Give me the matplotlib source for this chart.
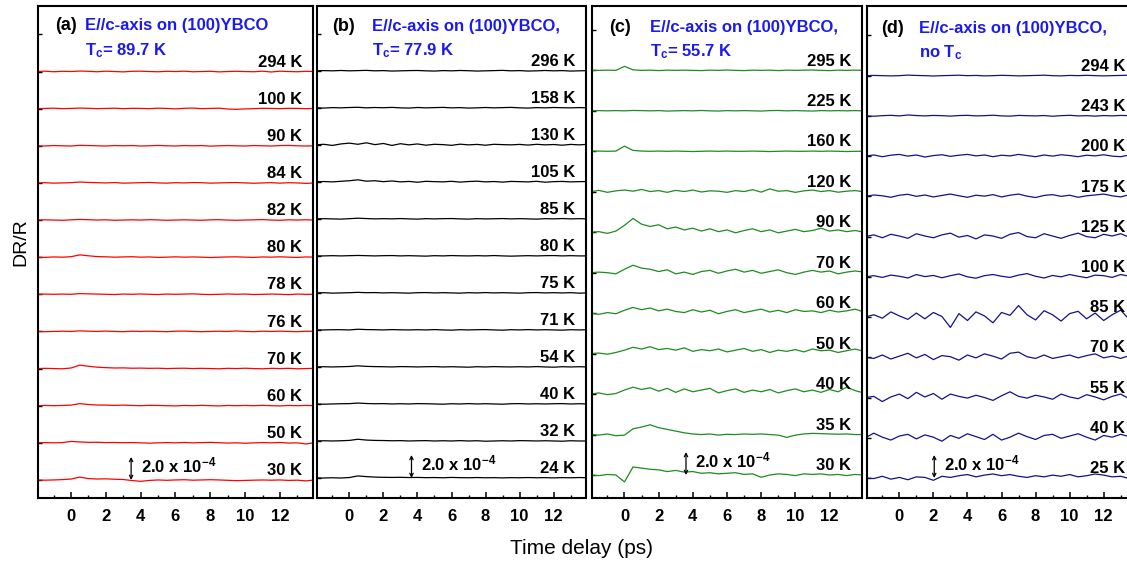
import numpy as np
import matplotlib
matplotlib.use("Agg")
import matplotlib.pyplot as plt

plt.rcParams['font.family'] = ['Liberation Sans', 'DejaVu Sans']
plt.rcParams['mathtext.fontset'] = 'custom'
plt.rcParams['mathtext.rm'] = 'Liberation Sans:bold'
plt.rcParams['mathtext.it'] = 'Liberation Sans:bold'
plt.rcParams['mathtext.bf'] = 'Liberation Sans:bold'
plt.rcParams['mathtext.default'] = 'rm'

# ---------------------------------------------------------------- data
# pump-probe delay grid (ps); traces are dR/R in units of 1e-4
time_ps = np.arange(-2.0, 14.01, 0.5)
xtick_values = [0, 2, 4, 6, 8, 10, 12]
xtick_labels = ['0', '2', '4', '6', '8', '10', '12']

temps_a = [294, 100, 90, 84, 82, 80, 78, 76, 70, 60, 50, 30]
traces_a = [
    [0, 0.03, -0.02, 0.02, 0, 0.04, 0.02, -0.02, 0.03, 0, -0.03,
     0.02, 0.03, 0, -0.02, 0.02, 0, 0.03, -0.02, 0, 0.02, -0.03,
     0, 0.02, 0, -0.02, 0.03, -0.04, 0.03, 0, -0.02, 0.02, 0],
    [0, 0.02, 0.04, 0, 0.02, 0.05, 0.03, 0, 0.02, 0.04, 0,
     0.03, 0.02, 0, 0.04, 0.02, -0.02, 0.03, 0.05, 0, 0.02, 0.04,
     -0.03, -0.06, -0.02, 0, 0.03, 0.02, 0, 0.03, 0.02, 0, 0.02],
    [0, -0.02, 0.02, 0, -0.02, 0.04, 0.02, 0, -0.02, 0.02, 0,
     0.02, -0.02, 0, 0.03, 0, -0.02, 0.02, 0, 0.02, -0.03, 0,
     0.02, 0, -0.02, 0.02, 0, -0.02, 0.02, 0.03, 0, -0.02, 0],
    [0, 0.02, -0.02, 0, 0.02, 0.08, 0.04, 0.02, 0, 0.03, -0.02,
     0, 0.02, 0.04, 0, -0.02, 0.02, 0, 0.03, 0.02, -0.02, 0,
     0.02, 0.03, 0, -0.03, 0, 0.02, -0.02, 0.02, 0, -0.04, 0],
    [0, 0.02, 0, -0.02, 0.02, 0.05, 0.03, 0, 0.02, -0.02, 0,
     0.02, 0, 0.03, 0.01, -0.02, 0, 0.02, 0, -0.02, 0.02, 0.03,
     0, -0.02, 0, 0.02, 0.04, 0, -0.02, 0.02, 0, 0.02, 0],
    [0, -0.02, 0.02, 0, 0.04, 0.2, 0.12, 0.05, 0.03, 0, 0.02,
     0.04, 0, 0.02, -0.02, 0, 0.03, 0, 0.02, 0, -0.03, 0,
     0.02, 0.03, 0, -0.02, 0.02, 0, 0.03, 0, -0.02, 0.02, 0],
    [0, 0.02, 0, 0.02, 0, 0.06, 0.04, 0.02, 0, -0.02, 0.02,
     0, 0.03, 0, -0.02, 0.02, 0, 0.02, 0.04, 0, -0.02, 0,
     0.03, 0, 0.02, -0.02, 0, 0.02, 0, -0.03, 0.02, 0, 0],
    [0, -0.02, 0, 0.02, 0, 0.05, 0.02, 0, 0.03, 0, -0.02,
     0.02, 0, 0.02, 0, -0.02, 0.02, 0.03, 0, -0.02, 0, 0.02,
     0, 0.04, 0, -0.02, 0.02, 0, 0.02, 0, -0.02, 0.02, 0],
    [0, 0.02, 0, -0.02, 0.05, 0.3, 0.2, 0.12, 0.08, 0.05, 0.06,
     0.03, 0.04, 0.02, 0.03, 0, 0.02, 0.03, 0, 0.02, 0, -0.02,
     0.02, 0, 0.03, 0, -0.02, 0.02, 0, 0.02, -0.02, 0, 0.02],
    [0, 0.02, 0, 0.02, 0.05, 0.18, 0.1, 0.06, 0.05, 0.03, 0.05,
     0.02, 0, 0.03, 0.02, 0, -0.02, 0.02, 0, 0.03, 0, -0.02,
     0.02, 0, 0.02, 0, 0.03, 0, -0.02, 0.02, 0, 0.02, 0],
    [0, 0.02, 0, 0.02, 0.12, 0.08, 0.04, 0.05, 0.02, 0.03, 0.01,
     0.02, 0, -0.03, 0, 0.02, 0, 0.03, 0, 0.02, 0.04, 0.01,
     -0.02, 0, -0.04, 0, 0.02, 0, 0.03, -0.02, 0, -0.1, 0.02],
    [0, -0.02, 0, 0.03, 0.08, 0.25, 0.12, 0.08, 0.1, 0.06, 0.04,
     -0.05, -0.12, -0.04, 0, -0.03, 0, 0.02, -0.02, 0, 0.02, 0,
     -0.03, -0.06, -0.04, -0.02, 0, -0.02, 0, -0.04, -0.02, -0.08, 0],
]

temps_b = [296, 158, 130, 105, 85, 80, 75, 71, 54, 40, 32, 24]
traces_b = [
    [0, 0.02, 0, 0.03, 0, 0.02, 0.04, 0, 0.02, -0.02, 0,
     0.02, 0.03, 0, -0.02, 0.02, 0, 0.03, 0.01, -0.02, 0, 0.02,
     0.04, 0, 0.02, -0.02, 0, 0.03, 0, 0.02, -0.02, 0, 0.02],
    [0, -0.02, 0.02, 0, 0.03, 0.05, 0, 0.03, 0.01, 0.04, 0,
     -0.02, 0.03, 0, 0.02, 0.04, 0, 0.02, -0.02, 0, 0.03, 0,
     0.02, 0.04, 0, -0.02, 0.02, 0, 0.03, 0.01, 0, 0.02, 0],
    [0, 0.05, -0.05, 0.08, 0.15, 0.05, 0.18, 0.02, 0.12, -0.05, 0.1,
     0, 0.08, -0.03, 0.05, 0.02, -0.04, 0.06, 0, 0.04, -0.03, 0.05,
     0.02, 0, 0.04, -0.02, 0.05, 0, 0.03, -0.03, 0.04, 0, 0.05],
    [0, 0.03, 0, 0.05, 0.1, 0.18, 0.06, 0.1, 0.02, 0.08, 0,
     0.04, -0.03, 0.05, 0.02, 0, 0.05, -0.02, 0.03, 0.06, 0, 0.03,
     -0.02, 0.04, 0.02, 0, 0.05, -0.03, 0.02, 0.04, 0, 0.02, 0.03],
    [0, 0.02, 0, -0.02, 0.02, 0.06, 0.03, 0, 0.02, 0, 0.03,
     0, -0.02, 0.02, 0, 0.02, 0.03, 0, -0.02, 0.02, 0, 0.01,
     0.03, 0, 0.02, 0, -0.02, 0.02, 0, 0.03, 0, 0.02, 0],
    [0, 0, 0.02, 0, 0.02, 0.04, 0.02, 0, 0.02, 0.03, 0,
     0.02, 0, -0.02, 0.02, 0, 0.03, 0.01, 0, 0.02, 0, 0.03,
     0, -0.02, 0, 0.02, 0, 0.02, 0.03, 0, 0.02, 0, 0],
    [0, 0.02, -0.02, 0, 0.02, 0.05, 0.02, 0.03, 0, 0.02, 0,
     -0.02, 0.02, 0.03, 0, 0.02, 0, -0.02, 0.02, 0, 0.03, 0,
     0.02, 0, -0.02, 0.02, 0.03, 0, 0.02, 0, 0.02, -0.02, 0],
    [0, 0, 0.02, 0.02, 0, 0.06, 0.03, 0.02, 0, 0.03, 0.01,
     0, 0.02, 0, 0.03, 0, -0.02, 0.02, 0, 0.02, 0.03, 0,
     -0.02, 0.02, 0, 0.03, 0, 0.02, 0, -0.02, 0.02, 0, 0.02],
    [0, 0.02, 0, 0.02, 0.04, 0.1, 0.05, 0.03, 0.02, 0, 0.03,
     0.02, 0, 0.02, 0.03, 0, 0.02, 0, -0.02, 0.02, 0, 0.03,
     0.01, 0, 0.02, 0, 0.03, 0, -0.02, 0.02, 0, 0.02, 0],
    [0, -0.02, 0, 0.02, 0.03, 0.08, 0.04, 0.02, 0.03, 0, 0.02,
     0, 0.03, 0.02, 0, -0.02, 0.02, 0, 0.03, 0, 0.02, 0,
     -0.02, 0.02, 0.03, 0, 0.02, 0, 0.02, 0.03, 0, 0.02, 0],
    [0, 0.02, 0, 0.02, 0.05, 0.15, 0.08, 0.05, 0.04, 0.02, 0.03,
     0, 0.02, 0.03, 0, 0.02, 0, 0.03, 0, 0.02, -0.02, 0,
     0.02, 0, 0.03, 0.02, 0, 0.02, 0, -0.02, 0.02, 0, 0],
    [0, 0, 0.02, 0, 0.04, 0.18, 0.12, 0.08, 0.06, 0.05, 0.06,
     0.04, 0.05, 0.03, 0.04, 0.02, 0.05, 0.03, 0.02, 0.04, 0.02, 0.03,
     0.01, 0.03, 0.02, 0.04, 0.02, 0.03, 0.01, 0.03, 0.02, 0.04, 0.02],
]

temps_c = [295, 225, 160, 120, 90, 70, 60, 50, 40, 35, 30]
traces_c = [
    [0, 0, 0.02, 0, 0.35, 0.05, 0, 0.02, -0.02, 0.02, 0,
     0.02, 0, -0.02, 0.02, 0, 0.03, 0, -0.02, 0.02, 0, 0.02,
     -0.02, 0.02, 0, 0.02, 0.03, 0, -0.02, 0.02, 0, 0.02, 0],
    [0, 0.02, 0, 0.02, 0, 0.03, 0.02, 0, 0.02, -0.02, 0,
     0.02, 0, 0.03, 0, -0.02, 0.02, 0, 0.02, 0, -0.02, 0.02,
     0.03, 0, 0.02, 0, -0.02, 0.02, 0, 0.02, 0, 0.02, 0],
    [0, 0.02, 0, 0.02, 0.45, 0.08, 0.02, 0, 0.02, 0, 0.02,
     0, -0.02, 0, 0.02, 0, 0.02, 0, 0, 0.02, 0, -0.02,
     0, 0.02, 0, 0, 0.02, 0, 0.02, 0, -0.02, 0, 0],
    [0, 0.12, -0.05, 0.08, 0.15, 0.05, 0.2, 0.02, 0.1, -0.05, 0.12,
     0.02, 0.15, -0.02, 0.08, 0.05, -0.05, 0.1, 0.02, 0.18, -0.03, 0.25,
     0.05, 0.1, -0.05, 0.08, 0.15, 0.02, 0.1, -0.04, 0.05, 0.1, 0],
    [0, 0.05, -0.1, 0.1, 0.6, 1.2, 0.7, 0.5, 0.65, 0.3, 0.45,
     0.2, 0.35, 0.1, 0.3, 0.05, 0.2, -0.05, 0.15, 0.3, 0.05, 0.2,
     -0.05, 0.1, 0.25, 0.05, 0.15, 0.35, 0.1, 0.2, 0.05, 0.15, 0],
    [0, 0.05, 0, -0.1, 0.3, 0.65, 0.4, 0.3, 0.1, 0.25, -0.1,
     0.05, -0.15, 0.1, 0.2, -0.05, 0.15, 0.3, 0.05, 0.2, -0.05, 0.1,
     0.25, 0, -0.15, 0.05, 0.2, 0.05, 0.15, -0.1, 0.05, 0.15, 0.05],
    [0, -0.1, 0.05, -0.05, 0.25, 0.5, 0.3, 0.45, 0.2, 0.35, 0.15,
     0.05, 0.3, 0.1, 0.25, -0.05, 0.15, 0.3, 0.05, 0.2, 0.35, 0.1,
     0.25, 0.05, 0.3, 0.15, 0.2, 0.05, 0.25, 0.1, 0.2, 0.35, 0.1],
    [0, 0.05, -0.05, 0.1, 0.3, 0.55, 0.4, 0.6, 0.35, 0.45, 0.3,
     0.5, 0.2, 0.35, 0.25, 0.4, 0.15, 0.3, 0.45, 0.2, 0.35, 0.1,
     0.3, 0.2, 0.35, 0.15, 0.4, 0.25, 0.3, 0.1, 0.25, 0.4, 0.2],
    [0, 0.1, -0.05, 0.05, 0.35, 0.6, 0.4, 0.55, 0.25, 0.5, 0.15,
     0.45, 0.2, 0.35, 0.5, 0.1, 0.3, 0.45, 0.15, 0.35, 0.2, 0.4,
     0.1, 0.3, 0.45, 0.2, 0.35, 0.15, 0.4, 0.2, 0.6, 0.3, 0.1],
    [0, -0.05, 0.05, -0.1, -0.05, 0.5, 0.65, 0.85, 0.6, 0.45, 0.3,
     0.15, 0.05, 0, 0.05, -0.05, 0.02, 0, 0.05, 0.02, 0.05, 0,
     -0.05, -0.25, -0.05, 0.05, 0.1, 0.08, 0.05, 0.03, 0.05, 0, 0],
    [0, -0.05, 0.05, 0, -0.6, 0.7, 0.6, 0.5, 0.45, 0.3, 0.4,
     0.25, 0.3, 0.15, 0.2, 0.1, 0.15, 0.2, 0.05, 0.1, -0.2, 0,
     0.1, 0.05, -0.05, 0.1, 0.05, 0.1, 0, 0.05, -0.05, 0.05, 0],
]

temps_d = [294, 243, 200, 175, 125, 100, 85, 70, 55, 40, 25]
traces_d = [
    [0, 0.02, 0, -0.02, 0, 0.05, 0.02, 0, -0.03, 0, 0.02,
     0.04, 0, 0.02, -0.02, 0, 0.03, 0.01, -0.02, 0, 0.02, 0.04,
     0, -0.02, 0.02, 0, 0.03, 0, -0.02, 0, 0.02, 0.04, 0],
    [0, -0.03, 0.02, 0.05, 0, 0.08, 0.03, 0, 0.04, 0.02, -0.02,
     0.03, 0.05, 0, 0.02, 0.06, 0, -0.02, 0.04, 0.02, 0, 0.03,
     -0.03, 0.02, 0.05, 0, 0.02, -0.02, 0.03, 0, 0.04, 0.02, 0],
    [0, 0.1, -0.05, 0.08, 0.15, 0, 0.1, -0.08, 0.05, 0.12, -0.02,
     0.08, 0.15, 0.02, 0.1, -0.05, 0.08, 0.02, 0.15, 0.05, -0.05, 0.1,
     0, 0.12, 0.05, -0.05, 0.08, 0.02, 0.12, 0, -0.05, 0.1, 0.05],
    [0, 0.12, 0.05, -0.08, 0.1, 0.18, 0, 0.12, -0.05, 0.08, 0.2,
     0.05, -0.08, 0.1, 0.02, 0.15, -0.05, 0.1, 0.2, 0.02, -0.1, 0.08,
     0.15, 0, 0.1, -0.08, 0.05, 0.12, 0.2, 0.05, -0.05, 0.15, 0.05],
    [0, 0.15, -0.1, 0.2, 0.05, -0.15, 0.25, 0.05, -0.1, 0.15, 0.3,
     -0.05, 0.1, -0.2, 0.15, 0.05, -0.15, 0.2, 0.35, 0, -0.1, 0.25,
     0.05, -0.15, 0.1, 0.3, 0, -0.1, 0.2, 0.05, 0.25, -0.05, 0.1],
    [0, 0.1, -0.05, 0.15, 0.05, -0.1, 0.2, 0.02, 0.12, -0.08, 0.1,
     0.25, 0, -0.12, 0.1, 0.2, 0.05, -0.05, 0.15, 0.28, 0.05, -0.1,
     0.12, 0, 0.2, 0.05, -0.08, 0.15, 0.1, -0.05, 0.2, 0.05, 0.1],
    [0, 0.2, -0.1, 0.45, 0.1, -0.2, 0.35, -0.15, 0.4, 0.05, -0.9,
     0.3, -0.3, 0.45, 0.1, -0.5, 0.4, 0.15, 1.0, 0.2, -0.25, 0.55,
     0.2, -0.35, 0.3, 0.5, -0.15, 0.35, -0.3, 0.2, 0.6, -0.2, 0.4],
    [0, -0.1, 0.2, -0.15, 0.1, 0.35, -0.05, 0.25, -0.2, 0.15, 0.05,
     -0.25, 0.2, -0.05, 0.3, 0.1, -0.15, 0.35, 0.45, 0.05, -0.1, 0.2,
     -0.1, 0.05, 0.2, -0.05, 0.15, 0.3, -0.05, 0.1, -0.1, 0.15, 0.05],
    [0, 0.1, -0.35, 0.05, 0.3, -0.1, 0.45, 0.05, 0.35, -0.15, 0.3,
     0.1, -0.05, 0.2, 0, -0.25, 0.15, 0.5, 0.1, -0.05, 0.2, 0.05,
     -0.15, 0.3, 0.05, -0.1, 0.25, 0.05, -0.2, 0.1, 0.3, -0.1, 0.05],
    [0, 0.4, 0.05, -0.2, 0.15, 0.3, -0.1, 0.25, 0.05, -0.3, 0.2,
     -0.05, 0.35, 0.1, -0.15, 0.3, -0.2, 0.05, 0.4, 0.1, -0.15, 0.2,
     0.3, -0.05, 0.15, 0.35, 0.05, -0.2, 0.2, 0.05, 0.3, 0.1, 0],
    [0, -0.05, 0.15, -0.1, 0.05, -0.15, 0.1, 0.05, -0.2, 0.15, 0.05,
     0.2, 0.3, 0.1, 0.25, 0.35, 0.2, 0.3, 0.15, 0.05, 0.2, 0.1,
     0.25, 0.15, 0.3, 0.1, 0.2, 0.35, 0.25, 0.1, 0.15, -0.05, 0.05],
]

scale_bar = 2.0          # length of the vertical scale arrow (x 1e-4)

# ---------------------------------------------------------------- layout
W, H = 1127, 562
AX_BOTTOM_PX, AX_TOP_PX = 498, 6
Y_TOP = 42.8
XLIM = (-1.9, 13.9)
TITLE_BLUE = '#1a1af0'

panels = [
    dict(tag='(a)', temps=temps_a, traces=traces_a, color='#ff0000',
         title='E//c-axis on (100)YBCO', sub='T$_\\mathregular{c}$= 89.7 K',
         px=(38, 313), base=1.57, step=3.23, bar_x=3.45,
         tag_dx=17, title_dx=47, l1=30, l2=55),
    dict(tag='(b)', temps=temps_b, traces=traces_b, color='#000000',
         title='E//c-axis on (100)YBCO,', sub='T$_\\mathregular{c}$= 77.9 K',
         px=(317, 586), base=1.74, step=3.22, bar_x=3.65,
         tag_dx=15, title_dx=55, l1=31, l2=55),
    dict(tag='(c)', temps=temps_c, traces=traces_c, color='#1e8c1e',
         title='E//c-axis on (100)YBCO,', sub='T$_\\mathregular{c}$= 55.7 K',
         px=(592, 862), base=2.0, step=3.52, bar_x=3.6,
         tag_dx=17, title_dx=58, l1=32, l2=56),
    dict(tag='(d)', temps=temps_d, traces=traces_d, color='#12128a',
         title='E//c-axis on (100)YBCO,', sub='no T$_\\mathregular{c}$',
         px=(867, 1136), base=1.74, step=3.5, bar_x=2.05,
         tag_dx=14, title_dx=52, l1=33, l2=57),
]

fig = plt.figure(figsize=(W / 100, H / 100), dpi=100)
ax_h = AX_BOTTOM_PX - AX_TOP_PX

for p in panels:
    left, right = p['px']
    wpx = right - left
    ax = fig.add_axes([left / W, (H - AX_BOTTOM_PX) / H, wpx / W, ax_h / H])
    n = len(p['temps'])
    offsets = [p['base'] + (n - 1 - i) * p['step'] for i in range(n)]

    for temp, trace, off in zip(p['temps'], p['traces'], offsets):
        ax.plot(time_ps, np.asarray(trace) + off, color=p['color'], lw=0.9)
        ax.text(1 - 11 / wpx, off + 0.42, f'{temp} K',
                transform=ax.get_yaxis_transform(), ha='right',
                va='baseline', fontsize=12, fontweight='bold')

    # vertical scale arrow standing on the lowest trace
    y0 = offsets[-1]
    ax.annotate('', xy=(p['bar_x'], y0 + scale_bar), xytext=(p['bar_x'], y0),
                arrowprops=dict(arrowstyle='<->', lw=0.9, color='black',
                                mutation_scale=6, shrinkA=0, shrinkB=0))
    ax.text(p['bar_x'] + 0.55, y0 + 1.3, f'{scale_bar:.1f} x 10$^{{-4}}$',
            ha='left', va='center', fontsize=12, fontweight='bold')

    # panel tag and title
    ya1 = 1 - (p['l1'] - AX_TOP_PX) / ax_h
    ya2 = 1 - (p['l2'] - AX_TOP_PX) / ax_h
    ax.text(p['tag_dx'] / wpx, ya1, p['tag'], transform=ax.transAxes,
            fontsize=13, fontweight='bold', va='baseline')
    ax.text(p['title_dx'] / wpx, ya1, p['title'], transform=ax.transAxes,
            fontsize=12, fontweight='bold', color=TITLE_BLUE, va='baseline')
    ax.text(p['title_dx'] / wpx, ya2, p['sub'], transform=ax.transAxes,
            fontsize=12, fontweight='bold', color=TITLE_BLUE, va='baseline')

    ax.set_xlim(*XLIM)
    ax.set_ylim(0, Y_TOP)
    ax.set_xticks(xtick_values)
    ax.set_xticklabels(xtick_labels, fontsize=12, fontweight='bold')
    ax.set_xticks(np.arange(-1, 14, 2), minor=True)
    ax.set_yticks(offsets + [offsets[0] + p['step']])
    ax.set_yticklabels([])
    ax.tick_params(axis='x', which='major', direction='in', length=4.5,
                   width=1.1, pad=8, top=False)
    ax.tick_params(axis='x', which='minor', direction='in', length=2.2,
                   width=1.0, top=False)
    ax.tick_params(axis='y', direction='in', length=3, width=1.0, right=False)
    for s in ax.spines.values():
        s.set_linewidth(1.5)

fig.text(21 / W, 1 - 242 / H, 'DR/R', rotation=90, fontsize=14,
         ha='center', va='center')
fig.text(581 / W, 1 - 549 / H, 'Time delay (ps)', fontsize=15,
         ha='center', va='center')

fig.savefig('out.png', dpi=100)
